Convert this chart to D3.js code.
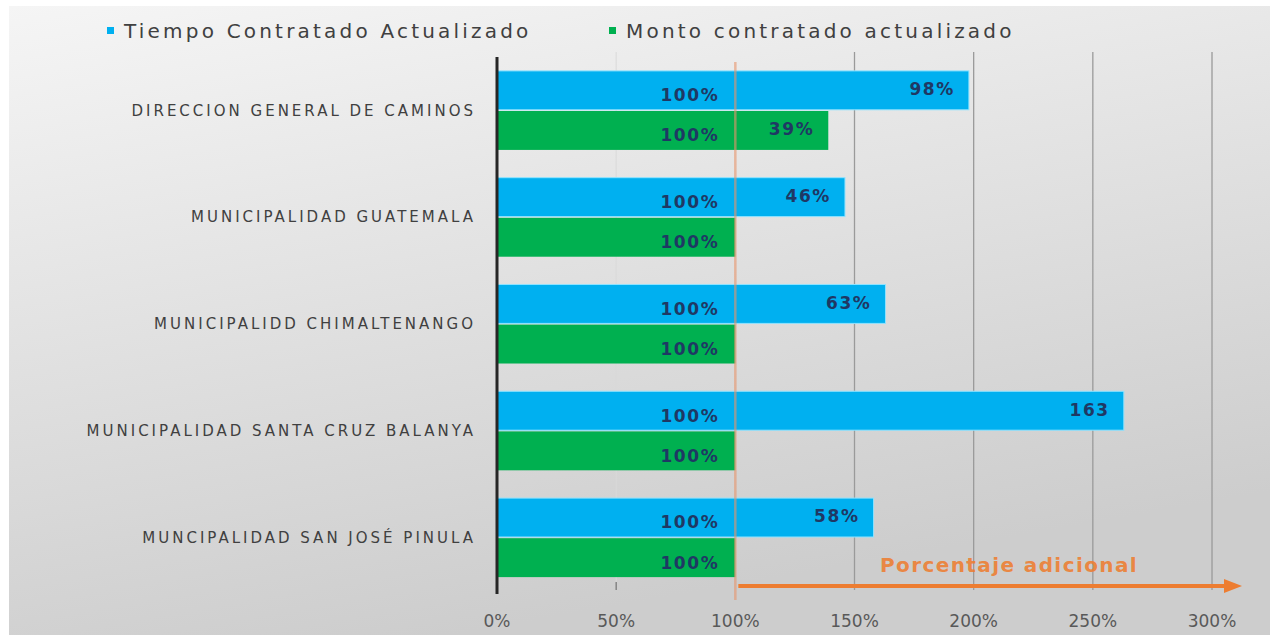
<!DOCTYPE html>
<html>
<head>
<meta charset="utf-8">
<script src="https://cdn.jsdelivr.net/npm/d3@7"></script>
<style>
  body { margin: 0; background: #fff; }
  svg { display: block; }
</style>
</head>
<body>
<svg id="chart" width="1270" height="635"></svg>
<script>
// data
const categories = [
  "DIRECCION GENERAL DE CAMINOS",
  "MUNICIPALIDAD GUATEMALA",
  "MUNICIPALIDD CHIMALTENANGO",
  "MUNICIPALIDAD SANTA CRUZ BALANYA",
  "MUNCIPALIDAD SAN JOSÉ PINULA"
];
const seriesNames = ["Tiempo Contratado Actualizado", "Monto contratado actualizado"];
const tiempoBase = [100, 100, 100, 100, 100];
const tiempoAdicional = [98, 46, 63, 163, 58];
const tiempoAdicionalLabels = ["98%", "46%", "63%", "163", "58%"];
const montoBase = [100, 100, 100, 100, 100];
const montoAdicional = [39, 0, 0, 0, 0];
const montoAdicionalLabels = ["39%", "", "", "", ""];
const xTicks = [0, 50, 100, 150, 200, 250, 300];
const tickLabels = ["0%", "50%", "100%", "150%", "200%", "250%", "300%"];
const arrowLabel = "Porcentaje adicional";

const colors = { tiempo: "#00b0f0", monto: "#00b050", label: "#1f3864", orange: "#ed7d31" };

const svg = d3.select("#chart");

// background panel with soft gradient
const defs = svg.append("defs");
const grad = defs.append("linearGradient")
  .attr("id", "bg")
  .attr("x1", "0").attr("y1", "0").attr("x2", "0.35").attr("y2", "1");
grad.append("stop").attr("offset", "0").attr("stop-color", "#f5f5f5");
grad.append("stop").attr("offset", "1").attr("stop-color", "#cdcdcd");
svg.append("rect")
  .attr("x", 9).attr("y", 6).attr("width", 1261).attr("height", 629)
  .attr("fill", "url(#bg)");

const x = d3.scaleLinear().domain([0, 300]).range([497, 1212]);
const y = d3.scaleBand().domain(categories).range([57, 591])
  .paddingInner(0.26).paddingOuter(0.13);
const ySub = d3.scaleBand().domain(["tiempo", "monto"])
  .range([0, y.bandwidth()]).paddingInner(0.03);

// gridlines
svg.append("g")
  .selectAll("line")
  .data(xTicks.filter(d => d > 100))
  .enter()
  .append("line")
  .attr("x1", d => x(d)).attr("x2", d => x(d))
  .attr("y1", 52).attr("y2", 590)
  .attr("stroke", "#9a9a9a")
  .attr("stroke-width", 1.3);
svg.append("line")
  .attr("x1", x(50)).attr("x2", x(50))
  .attr("y1", 52).attr("y2", 590)
  .attr("stroke", "#dadada");
svg.append("line")
  .attr("x1", x(50)).attr("x2", x(50))
  .attr("y1", 582).attr("y2", 590)
  .attr("stroke", "#777").attr("stroke-width", 1.3);

// rows of stacked segments
const rows = categories.map((c, i) => ({
  cat: c,
  parts: [
    { key: "tiempo", base: tiempoBase[i], add: tiempoAdicional[i], addLabel: tiempoAdicionalLabels[i] },
    { key: "monto", base: montoBase[i], add: montoAdicional[i], addLabel: montoAdicionalLabels[i] }
  ]
}));

const groups = svg.append("g")
  .selectAll("g")
  .data(rows)
  .enter()
  .append("g")
  .attr("transform", d => `translate(0,${y(d.cat)})`);

const bars = groups.selectAll("g.bar")
  .data(d => d.parts)
  .enter()
  .append("g")
  .attr("class", "bar");

bars.append("rect")
  .attr("x", x(0))
  .attr("y", d => ySub(d.key))
  .attr("width", d => x(d.base + d.add) - x(0))
  .attr("height", ySub.bandwidth())
  .attr("fill", d => colors[d.key])
  .attr("stroke", d => d.key === "tiempo" ? "#8fe3ff" : "none")
  .attr("stroke-width", 1);

// orange reference line at 100%
svg.append("line")
  .attr("x1", x(100)).attr("x2", x(100))
  .attr("y1", 62).attr("y2", 600)
  .attr("stroke", "#e8956a")
  .attr("stroke-opacity", 0.6)
  .attr("stroke-width", 2.5);

const labelFont = "'DejaVu Sans', sans-serif";
bars.append("text")
  .attr("x", d => x(d.base) - 16)
  .attr("y", d => ySub(d.key) + ySub.bandwidth() / 2 + 5)
  .attr("dy", "0.35em")
  .attr("text-anchor", "end")
  .attr("font-family", labelFont)
  .attr("font-weight", "bold")
  .attr("font-size", 17)
  .attr("letter-spacing", 1.6)
  .attr("fill", colors.label)
  .text(d => d.base + "%");

bars.filter(d => d.add > 0)
  .append("text")
  .attr("x", d => x(d.base + d.add) - 14)
  .attr("y", d => ySub(d.key) + ySub.bandwidth() / 2 - 1)
  .attr("dy", "0.35em")
  .attr("text-anchor", "end")
  .attr("font-family", labelFont)
  .attr("font-weight", "bold")
  .attr("font-size", 17)
  .attr("letter-spacing", 1.6)
  .attr("fill", colors.label)
  .text(d => d.addLabel);

// category axis
svg.append("g")
  .selectAll("text")
  .data(categories)
  .enter()
  .append("text")
  .attr("x", 476)
  .attr("y", d => y(d) + y.bandwidth() / 2)
  .attr("dy", "0.35em")
  .attr("text-anchor", "end")
  .attr("font-family", labelFont)
  .attr("font-size", 15)
  .attr("letter-spacing", 3)
  .attr("fill", "#404040")
  .text(d => d);

svg.append("line")
  .attr("x1", x(0)).attr("x2", x(0))
  .attr("y1", 57).attr("y2", 594)
  .attr("stroke", "#262626")
  .attr("stroke-width", 3);

// value axis labels
svg.append("g")
  .selectAll("text")
  .data(xTicks)
  .enter()
  .append("text")
  .attr("x", d => x(d))
  .attr("y", 627)
  .attr("text-anchor", "middle")
  .attr("font-family", labelFont)
  .attr("font-size", 17)
  .attr("fill", "#595959")
  .text((d, i) => tickLabels[i]);

// arrow "Porcentaje adicional"
const arrowY = 586;
svg.append("line")
  .attr("x1", x(100) + 3).attr("x2", x(300) + 14)
  .attr("y1", arrowY).attr("y2", arrowY)
  .attr("stroke", colors.orange)
  .attr("stroke-width", 4);
svg.append("path")
  .attr("d", `M${x(300) + 12},${arrowY - 7} L${x(300) + 30},${arrowY} L${x(300) + 12},${arrowY + 7} Z`)
  .attr("fill", colors.orange);
svg.append("text")
  .attr("x", 880)
  .attr("y", 572)
  .attr("font-family", labelFont)
  .attr("font-weight", "bold")
  .attr("font-size", 20)
  .attr("letter-spacing", 1.4)
  .attr("fill", colors.orange)
  .attr("fill-opacity", 0.9)
  .text(arrowLabel);

// legend
const legendX = [107, 609];
const legend = svg.append("g")
  .selectAll("g")
  .data(seriesNames)
  .enter()
  .append("g")
  .attr("transform", (d, i) => `translate(${legendX[i]},31)`);
legend.append("rect")
  .attr("x", 0).attr("y", -4)
  .attr("width", 7).attr("height", 7)
  .attr("fill", (d, i) => i === 0 ? colors.tiempo : colors.monto);
legend.append("text")
  .attr("x", 17)
  .attr("dy", "0.35em")
  .attr("font-family", labelFont)
  .attr("font-size", 20)
  .attr("letter-spacing", 3.2)
  .attr("fill", "#404040")
  .text(d => d);
</script>
</body>
</html>
